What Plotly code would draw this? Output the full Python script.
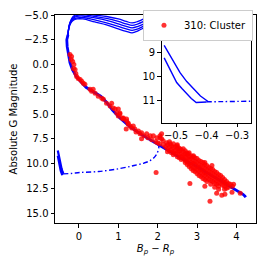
import plotly.graph_objects as go

# ---------------- data ----------------
# main-sequence part of the isochrones
ms_x = [-0.28, -0.31, -0.30, -0.27, -0.23, -0.17, -0.07, 0.06, 0.18, 0.30, 0.42, 0.55, 0.70, 0.85, 1.04, 1.30, 1.60, 2.06, 2.57, 3.08, 3.59, 3.84, 4.05, 4.17, 4.22, 4.24]
ms_y = [-3.0, -2.5, -1.8, -1.0, -0.2, 0.5, 1.2, 1.8, 2.3, 2.6, 2.9, 3.2, 3.8, 4.6, 5.4, 6.3, 7.1, 8.2, 9.4, 10.5, 11.7, 12.3, 12.8, 13.1, 13.3, 13.4]

# giant branches of the isochrones
gb_x = [-0.28, -0.26, -0.22, -0.15, -0.05, 0.10, 0.40, 0.70, 1.00, 1.20, 1.35, 1.50, 1.70, 1.90, 2.10, 2.30, 2.60, 2.90]
gb_y1 = [-3.0, -3.6, -4.1, -4.45, -4.6, -4.6, -4.3, -4.0, -3.6, -3.35, -3.2, -3.4, -3.8, -4.2, -4.4, -4.6, -4.9, -5.3]
gb_y2 = [-3.0, -3.65, -4.2, -4.55, -4.7, -4.75, -4.5, -4.2, -3.85, -3.6, -3.45, -3.6, -4.0, -4.4, -4.6, -4.8, -5.1, -5.5]
gb_y3 = [-2.95, -3.7, -4.25, -4.65, -4.85, -4.9, -4.7, -4.45, -4.1, -3.85, -3.7, -3.85, -4.2, -4.6, -4.8, -5.0, -5.3, -5.7]
gb_y4 = [-2.9, -3.7, -4.3, -4.75, -4.95, -5.05, -4.85, -4.65, -4.35, -4.1, -3.95, -4.1, -4.45, -4.8, -5.0, -5.2, -5.5, -5.9]
gb_y5 = [-2.9, -3.75, -4.35, -4.85, -5.05, -5.2, -5.0, -4.85, -4.6, -4.35, -4.2, -4.35, -4.7, -5.05, -5.25, -5.45, -5.7, -6.1]

# white-dwarf cooling tracks
wd1_x = [-0.539, -0.51, -0.487, -0.465, -0.443, -0.42, -0.394]
wd1_y = [8.69, 9.35, 9.83, 10.2, 10.51, 10.8, 11.04]
wd2_x = [-0.539, -0.52, -0.498, -0.48, -0.465, -0.45, -0.434, -0.40]
wd2_y = [9.21, 9.7, 10.24, 10.5, 10.72, 10.9, 11.07, 11.05]

# dash-dot connecting track
dd_x = [-0.40, -0.20, 0.03, 0.50, 1.04, 1.40, 1.65, 1.81, 1.92, 1.98, 2.03, 2.02]
dd_y = [11.04, 11.0, 10.9, 10.8, 10.5, 10.2, 9.95, 9.7, 9.35, 9.0, 8.4, 8.0]

# cluster members (310: Cluster)
cl_x = [-0.23, -0.19, -0.20, -0.16, -0.13, -0.14, -0.10, -0.08, -0.06, -0.02, 0.03, 0.07, 0.11, 0.15, 0.28, 0.32, 0.36, 0.41, 0.49, 0.58,
        0.62, 0.70, 0.79, 0.83, 0.87, 0.92, 0.96, 1.00, 1.04, 1.09, 1.13, 1.21, 1.25, 1.30, 1.34, 1.00, 1.04, 1.13, 1.21, 1.25,
        1.38, 1.42, 1.51, 1.59, 1.72, 1.81, 1.89, 1.98, 2.06, 2.10, 2.14, 2.23, 2.32, 2.40, 2.49, 2.53, 2.57, 2.65, 2.70, 2.74,
        2.78, 2.10, 1.96, 1.59, 2.06, 1.20, 1.45, 1.55, 1.65, 1.75, 1.85, 1.95, 2.00, 2.05, 2.15, 2.20,
        2.25, 2.25, 2.25, 2.30, 2.30, 2.30, 2.35, 2.35, 2.35, 2.40, 2.40, 2.40, 2.45, 2.45, 2.45,
        2.50, 2.50, 2.50, 2.50, 2.55, 2.55, 2.55, 2.60, 2.60, 2.60, 2.60, 2.65, 2.65, 2.65,
        2.70, 2.70, 2.70, 2.70, 2.75, 2.75, 2.75, 2.75, 2.80, 2.80, 2.80, 2.80, 2.80,
        2.85, 2.85, 2.85, 2.85, 2.85, 2.90, 2.90, 2.90, 2.90, 2.90, 2.95, 2.95, 2.95, 2.95, 2.95,
        3.00, 3.00, 3.00, 3.00, 3.00, 3.05, 3.05, 3.05, 3.05, 3.05, 3.10, 3.10, 3.10, 3.10, 3.10,
        3.15, 3.15, 3.15, 3.15, 3.15, 3.20, 3.20, 3.20, 3.20, 3.20, 3.25, 3.25, 3.25, 3.25, 3.25,
        3.30, 3.30, 3.30, 3.30, 3.35, 3.35, 3.35, 3.35, 3.35, 3.40, 3.40, 3.40, 3.40,
        3.45, 3.45, 3.45, 3.45, 3.45, 3.50, 3.50, 3.50, 3.50, 3.55, 3.55, 3.55, 3.55,
        3.60, 3.60, 3.60, 3.65, 3.65, 3.65, 3.70, 3.70, 3.70, 3.70, 3.75, 3.75, 3.75,
        3.80, 3.80, 3.85, 3.90,
        2.82, 3.33, 3.20, 3.50, 3.55, 3.71, 3.63, 3.93, 3.89, 2.91, 3.20, 3.38, 4.10]
cl_y = [-1.0, -0.8, -0.5, -0.3, 0.0, 0.4, 0.5, 0.9, 1.2, 1.4, 1.5, 1.7, 1.9, 2.0, 2.5, 2.7, 2.5, 2.9, 3.2, 3.4,
        3.5, 3.9, 4.2, 3.9, 4.4, 4.5, 4.9, 5.2, 5.0, 5.4, 5.5, 5.7, 6.0, 6.2, 6.4, 4.5, 4.9, 5.4, 5.5, 5.9,
        6.2, 6.5, 6.7, 6.9, 7.0, 7.2, 7.2, 7.4, 7.4, 7.5, 7.7, 7.9, 8.0, 8.0, 8.2, 8.4, 8.5, 8.5, 8.7, 8.9,
        9.0, 7.0, 10.9, 7.5, 7.2, 6.5, 6.8, 7.0, 7.2, 7.4, 7.6, 7.8, 7.9, 8.0, 8.1, 8.3,
        8.1, 8.5, 8.8, 7.8, 8.3, 8.7, 8.2, 8.6, 8.9, 8.4, 8.8, 9.1, 8.3, 8.7, 9.0,
        8.5, 8.9, 9.3, 8.1, 8.7, 9.0, 9.4, 8.6, 9.0, 9.3, 9.6, 8.8, 9.2, 9.5,
        9.0, 9.3, 9.7, 9.9, 9.1, 9.5, 9.8, 10.1, 8.9, 9.3, 9.6, 10.0, 10.3,
        9.2, 9.5, 9.9, 10.2, 10.5, 9.3, 9.7, 10.0, 10.4, 10.7, 9.4, 9.8, 10.1, 10.5, 10.8,
        9.5, 9.9, 10.3, 10.6, 11.0, 9.7, 10.1, 10.4, 10.8, 11.2, 9.8, 10.2, 10.6, 10.9, 11.3,
        9.9, 10.3, 10.7, 11.1, 11.5, 10.1, 10.5, 10.9, 11.2, 11.6, 10.2, 10.6, 11.0, 11.4, 11.8,
        10.4, 10.8, 11.2, 11.6, 10.5, 10.9, 11.3, 11.7, 12.1, 10.6, 11.0, 11.4, 11.8,
        10.8, 11.2, 11.6, 12.0, 12.4, 10.9, 11.3, 11.7, 12.1, 11.1, 11.5, 11.9, 12.3,
        11.2, 11.6, 12.0, 11.4, 11.8, 12.2, 11.6, 11.9, 12.3, 12.6, 11.8, 12.1, 12.5,
        12.0, 12.4, 12.1, 12.3,
        12.0, 13.8, 12.3, 13.0, 12.6, 13.1, 13.2, 12.1, 12.9, 9.2, 9.9, 10.2, 13.0]

legend_label = "310: Cluster"
x_ticks = [0, 1, 2, 3, 4]
y_ticks = [-5.0, -2.5, 0.0, 2.5, 5.0, 7.5, 10.0, 12.5, 15.0]
inset_x_ticks = [-0.5, -0.4, -0.3]
inset_y_ticks = [9, 10, 11]

# ---------------- figure ----------------
BLUE = "#0000ff"
DASHDOT = "5px,2.5px,1.5px,2.5px"
fig = go.Figure()

for xa, ya in [("x", "y"), ("x2", "y2")]:
    for gy in [gb_y1, gb_y2, gb_y3, gb_y4, gb_y5]:
        fig.add_trace(go.Scatter(x=gb_x, y=gy, mode="lines", line=dict(color=BLUE, width=1.3, shape="spline"),
                                 showlegend=False, xaxis=xa, yaxis=ya, hoverinfo="skip"))
    fig.add_trace(go.Scatter(x=ms_x, y=ms_y, mode="lines", line=dict(color=BLUE, width=2.8),
                             showlegend=False, xaxis=xa, yaxis=ya, hoverinfo="skip"))
    wdw = 2.2 if xa == "x" else 1.4
    fig.add_trace(go.Scatter(x=wd1_x, y=wd1_y, mode="lines", line=dict(color=BLUE, width=wdw),
                             showlegend=False, xaxis=xa, yaxis=ya, hoverinfo="skip"))
    fig.add_trace(go.Scatter(x=wd2_x, y=wd2_y, mode="lines", line=dict(color=BLUE, width=wdw),
                             showlegend=False, xaxis=xa, yaxis=ya, hoverinfo="skip"))
    fig.add_trace(go.Scatter(x=dd_x, y=dd_y, mode="lines", line=dict(color=BLUE, width=1.4, dash=DASHDOT, shape="spline"),
                             showlegend=False, xaxis=xa, yaxis=ya, hoverinfo="skip"))

fig.add_trace(go.Scatter(x=cl_x, y=cl_y, mode="markers", name=legend_label,
                         marker=dict(color="rgba(255,0,0,0.8)", size=5, line=dict(width=0)),
                         xaxis="x", yaxis="y"))

axis_common = dict(showline=True, linecolor="black", linewidth=1, mirror=True, ticks="outside",
                   ticklen=3.5, tickwidth=0.8, tickcolor="black", showgrid=False, zeroline=False,
                   automargin=False,
                   tickfont=dict(family="DejaVu Sans", size=10, color="black"))

fig.update_layout(
    width=266, height=266,
    margin=dict(l=55, r=10, t=13, b=43),
    paper_bgcolor="white", plot_bgcolor="white",
    font=dict(family="DejaVu Sans", size=10, color="black"),
    xaxis=dict(range=[-0.61, 4.5], tickvals=x_ticks, ticktext=[str(t) for t in x_ticks],
               title=dict(text="<i>B</i><sub><i>p</i></sub> − <i>R</i><sub><i>p</i></sub>", standoff=4,
                          font=dict(family="DejaVu Sans", size=10)), **axis_common),
    yaxis=dict(range=[16.0, -5.0], tickvals=y_ticks, ticktext=[f"{t:.1f}".replace("-", "−") for t in y_ticks],
               title=dict(text="Absolute G Magnitude", standoff=4, font=dict(family="DejaVu Sans", size=10)),
               **axis_common),
    xaxis2=dict(domain=[0.531, 0.974], anchor="y2", range=[-0.547, -0.255], tickvals=inset_x_ticks,
                ticktext=[f"{t:.1f}".replace("-", "−") for t in inset_x_ticks], **axis_common),
    yaxis2=dict(domain=[0.481, 0.882], anchor="x2", range=[11.92, 8.45], tickvals=inset_y_ticks,
                ticktext=[str(t) for t in inset_y_ticks], **axis_common),
    legend=dict(x=0.985, y=1.025, xanchor="right", yanchor="top", bgcolor="white",
                bordercolor="#cccccc", borderwidth=1, font=dict(family="DejaVu Sans", size=10),
                itemwidth=30, tracegroupgap=0),
    showlegend=True,
)

fig.write_html("out.html", config={"displayModeBar": False},
               post_script="document.body.style.margin='0';document.body.style.padding='0';")
